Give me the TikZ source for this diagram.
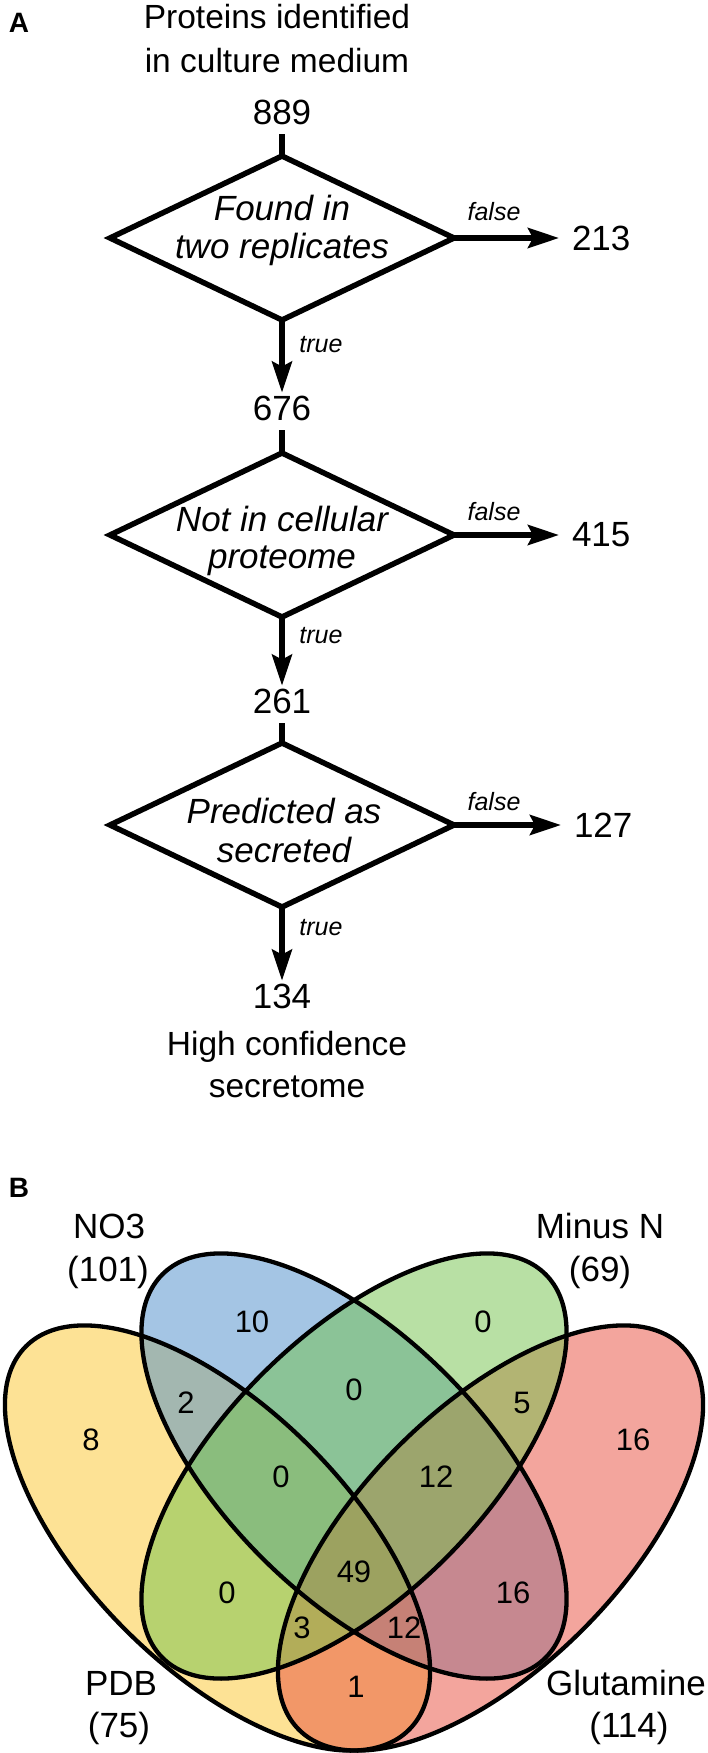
\documentclass[tikz,border=0pt]{standalone}
\usepackage{fontspec}
\setmainfont{Liberation Sans}
\usetikzlibrary{shapes.geometric,arrows.meta}
\definecolor{vyel}{RGB}{253,199,45}
\definecolor{vblu}{RGB}{75,141,203}
\definecolor{vred}{RGB}{233,77,61}
\definecolor{vgrn}{RGB}{115,195,75}
\tikzset{
  every node/.style={inner sep=0pt, outer sep=0pt},
  big/.style={font=\fontsize{35}{40}\selectfont, anchor=base},
  ttl/.style={font=\fontsize{33.5}{40}\selectfont, anchor=base},
  dtext/.style={font=\fontsize{35}{40}\selectfont\itshape, anchor=base},
  lbl/.style={font=\fontsize{25}{28}\selectfont\itshape, anchor=base},
  panel/.style={font=\fontsize{28}{30}\selectfont\bfseries, anchor=base west},
  dia/.style={diamond, draw, line width=5.5pt, minimum width=344pt, minimum height=164pt, inner sep=0pt},
  flow/.style={line width=5.5pt},
  arr/.style={line width=5.5pt, -{Stealth[length=31pt,width=20pt,inset=5pt]}},
  rnum/.style={font=\fontsize{35}{40}\selectfont, anchor=west},
  vnum/.style={font=\fontsize{31}{34}\selectfont},
  vlab/.style={font=\fontsize{35}{40}\selectfont, anchor=base},
  vline/.style={line width=4.3pt},
}
\begin{document}
\begin{tikzpicture}[x=1pt,y=1pt]
\fill[white] (0,0) rectangle (708,-1753);
\useasboundingbox (0,0) rectangle (708,-1753);

% ---------- Panel A ----------
\node[panel] (labA) at (9,-33) {A};
\node[ttl] (t1) at (277,-29) {Proteins identified};
\node[ttl] (t2) at (277,-72) {in culture medium};
\node[big] (n889) at (282,-124) {889};

\node[dia] (d1) at (282,-238) {};
\node[dtext] (d1a) at (282,-220) {Found in};
\node[dtext] (d1b) at (282,-258) {two replicates};

\node[big] (n676) at (282,-420) {676};
\node[dia] (d2) at (282,-535) {};
\node[dtext] (d2a) at (282,-531) {Not in cellular};
\node[dtext] (d2b) at (282,-568) {proteome};

\node[big] (n261) at (282,-713) {261};
\node[dia] (d3) at (282,-825) {};
\node[dtext] (d3a) at (284,-823) {Predicted as};
\node[dtext] (d3b) at (284,-862) {secreted};

\node[big] (n134) at (282,-1008) {134};
\node[ttl] (h1) at (287,-1055) {High confidence};
\node[ttl] (h2) at (287,-1097) {secretome};

\node[rnum] (n213) at (572,-238) {213};
\node[rnum] (n415) at (572,-535) {415};
\node[rnum] (n127) at (574,-825) {127};

\draw[flow, shorten <=10pt] (n889) -- (d1.north);
\draw[flow, shorten <=10pt] (n676) -- (d2.north);
\draw[flow, shorten <=10pt] (n261) -- (d3.north);

\draw[arr, shorten >=3pt] (d1.south) -- (n676);
\draw[arr, shorten >=3pt] (d2.south) -- (n261);
\draw[arr, shorten >=3pt] (d3.south) -- (n134);

\draw[arr, shorten >=13pt] (d1.east) -- (n213.west);
\draw[arr, shorten >=13pt] (d2.east) -- (n415.west);
\draw[arr, shorten >=13pt] (d3.east) -- (n127.west);

\node[lbl] (f1) at (494,-220) {false};
\node[lbl] (f2) at (494,-520) {false};
\node[lbl] (f3) at (494,-810) {false};
\node[lbl] (tr1) at (321,-352) {true};
\node[lbl] (tr2) at (321,-643) {true};
\node[lbl] (tr3) at (321,-935) {true};

% ---------- Panel B ----------
\node[panel] (labB) at (9,-1197) {B};

\fill[vyel, fill opacity=0.5, rotate around={-45:(217.5,-1538)}] (217.5,-1538) ellipse [x radius=271, y radius=130];
\fill[vblu, fill opacity=0.5, rotate around={-45:(354,-1466)}] (354,-1466) ellipse [x radius=271, y radius=130];
\fill[vred, fill opacity=0.5, rotate around={45:(490.5,-1538)}] (490.5,-1538) ellipse [x radius=271, y radius=130];
\fill[vgrn, fill opacity=0.5, rotate around={45:(354,-1466)}] (354,-1466) ellipse [x radius=271, y radius=130];

\draw[vline, rotate around={-45:(217.5,-1538)}] (217.5,-1538) ellipse [x radius=271, y radius=130];
\draw[vline, rotate around={-45:(354,-1466)}] (354,-1466) ellipse [x radius=271, y radius=130];
\draw[vline, rotate around={45:(490.5,-1538)}] (490.5,-1538) ellipse [x radius=271, y radius=130];
\draw[vline, rotate around={45:(354,-1466)}] (354,-1466) ellipse [x radius=271, y radius=130];

\node[vlab] (lno3) at (109,-1238) {NO3};
\node[vlab] (lno3n) at (108,-1281) {(101)};
\node[vlab] (lmin) at (600,-1238) {Minus N};
\node[vlab] (lminn) at (600,-1281) {(69)};
\node[vlab] (lpdb) at (121,-1695) {PDB};
\node[vlab] (lpdbn) at (119,-1737) {(75)};
\node[vlab] (lglu) at (626,-1695) {Glutamine};
\node[vlab] (lglun) at (629,-1737) {(114)};

\node[vnum] (r10) at (252,-1322) {10};
\node[vnum] (r0a) at (483,-1322) {0};
\node[vnum] (r8) at (91,-1440) {8};
\node[vnum] (r16a) at (633,-1440) {16};
\node[vnum] (r2) at (186,-1403) {2};
\node[vnum] (r0b) at (354,-1390) {0};
\node[vnum] (r5) at (522,-1403) {5};
\node[vnum] (r0c) at (281,-1477) {0};
\node[vnum] (r12a) at (436,-1477) {12};
\node[vnum] (r49) at (354,-1572) {49};
\node[vnum] (r0d) at (227,-1593) {0};
\node[vnum] (r16b) at (513,-1593) {16};
\node[vnum] (r3) at (302,-1628) {3};
\node[vnum] (r12b) at (404,-1628) {12};
\node[vnum] (r1) at (356,-1687) {1};
\end{tikzpicture}
\end{document}
